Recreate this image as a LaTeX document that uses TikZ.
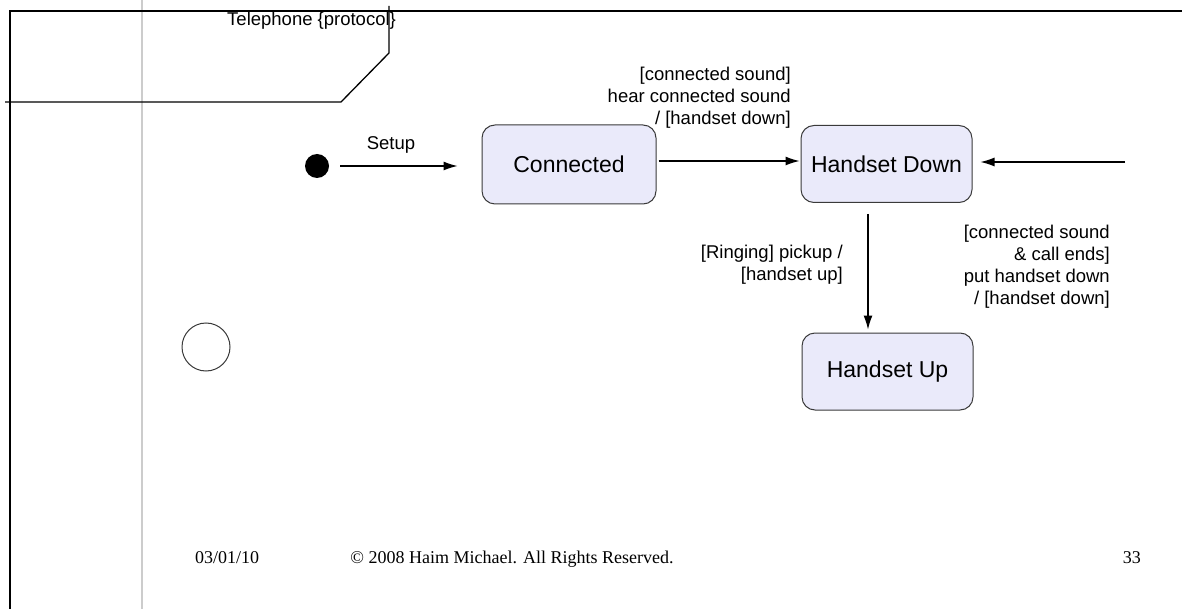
\documentclass[tikz,border=0pt]{standalone}
\usepackage{fontspec}
\setmainfont{Liberation Sans}
\newfontfamily\footfont{Liberation Serif}
\usetikzlibrary{arrows.meta,positioning}
\definecolor{statefill}{HTML}{EAEAFA}
\definecolor{stateline}{HTML}{3A3A3A}
\definecolor{guide}{HTML}{CCCCCC}
\tikzset{
  statebox/.style={draw=stateline, line width=1pt, fill=statefill, rounded corners=13pt,
    font=\fontsize{23}{26}\selectfont, inner sep=0pt},
  arr/.style={line width=1.2pt, -{Latex[length=14pt,width=9pt]}},
  lbl/.style={font=\fontsize{18.5}{22}\selectfont, inner sep=0pt},
  frameline/.style={line width=1.3pt, black},
  foot/.style={font=\footfont\fontsize{18}{21}\selectfont, inner sep=0pt, anchor=base}
}
\begin{document}
\begin{tikzpicture}[x=1pt,y=-1pt]
\useasboundingbox (0,0) rectangle (1182,609);
% guide line
\draw[guide, line width=2.4pt] (142,0) -- (142,609);
% frame
\draw[frameline] (10,609) -- (10,11) -- (1182,11);
\draw[frameline] (5,102) -- (341,102) -- (389,53) -- (389,6);
\node[lbl, anchor=west] (title) at (227,21) {Telephone \{protocol\}};
% states
\node[circle, fill=black, minimum size=24pt, inner sep=0pt] (init) at (317,166) {};
\node[statebox, minimum width=174pt, minimum height=79pt] (conn) at (569,164.5) {Connected};
\node[statebox, minimum width=171pt, minimum height=77pt] (hdown) at (886.5,164) {Handset Down};
\node[statebox, minimum width=171pt, minimum height=77pt] (hup) at (887.5,371.5) {Handset Up};
\node[circle, draw=stateline, line width=1pt, minimum size=48pt, inner sep=0pt] (endc) at (206,347) {};
\coordinate (rin) at (1125,162);
% transitions
\draw[arr] ([xshift=11pt]init.east) -- ([xshift=-24pt]init.east -| conn.west);
\draw[arr] ([shift={(2,-3.5)}]conn.east) -- ([shift={(-1,-3)}]hdown.west);
\draw[arr] (rin) -- ([xshift=8pt]rin -| hdown.east);
\draw[arr] ([shift={(-18.5,11)}]hdown.south) -- ([shift={(-19.5,-3)}]hup.north);
% labels
\node[lbl] (lsetup) at (391,145) {Setup};
\node[lbl, anchor=east, align=right] (l1) at (791,98) {[connected sound]\\hear connected sound\\/ [handset down]};
\node[lbl, anchor=east, align=right] (l2) at (843,265) {[Ringing] pickup /\\{}[handset up]};
\node[lbl, anchor=east, align=right] (l3) at (1110,266.5) {[connected sound\\\& call ends]\\put handset down\\/ [handset down]};
% footer
\node[foot, anchor=base west] (fdate) at (195,563) {03/01/10};
\node[foot] (fcopy) at (512,563) {\textcopyright{} 2008 Haim Michael. All Rights Reserved.};
\node[foot, anchor=base east] (fpage) at (1141,563) {33};
\end{tikzpicture}
\end{document}
